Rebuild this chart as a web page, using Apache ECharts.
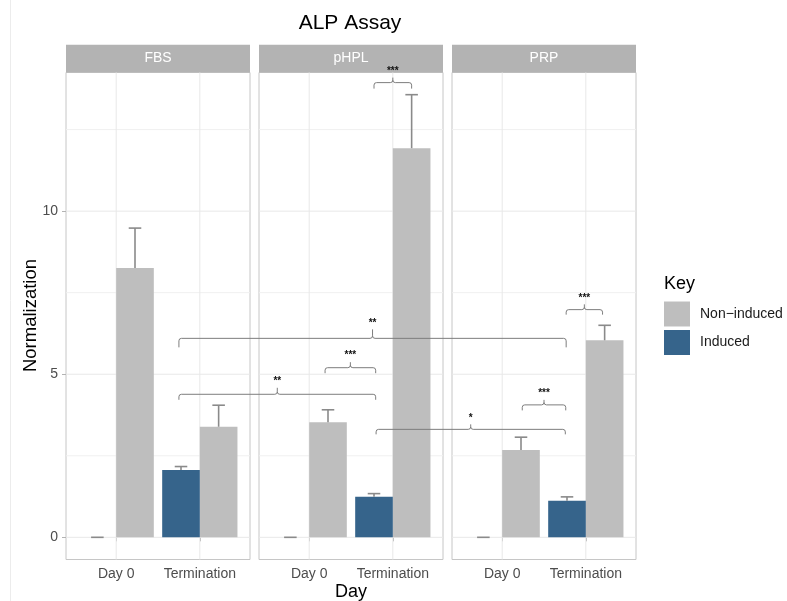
<!DOCTYPE html>
<html>
<head>
<meta charset="utf-8">
<title>ALP Assay</title>
<script src="https://cdn.jsdelivr.net/npm/echarts@6/dist/echarts.min.js"></script>
<style>
  html, body { margin: 0; padding: 0; background: #ffffff; }
  #chart { width: 787px; height: 601px; }
</style>
</head>
<body>
<div id="chart"></div>
<script>
// ---- data ----
const panels = ['FBS', 'pHPL', 'PRP'];
const days = ['Day 0', 'Termination'];
const groups = ['Non\u2212induced', 'Induced'];

// per panel: [Day 0, Termination]
const nonInducedMean = [[8.26, 3.39], [3.53, 11.93], [2.68, 6.04]];
const nonInducedSD   = [[1.22, 0.66], [0.38, 1.64], [0.39, 0.46]];
const inducedMean    = [[0, 2.06], [0, 1.24], [0, 1.12]];
const inducedSD      = [[0, 0.11], [0, 0.10], [0, 0.12]];

const yTicks = [0, 5, 10];
const yMinorTicks = [2.5, 7.5, 12.5];

// significance brackets: start [panel, x], end [panel, x], bracket level, label
const bracketFrom  = [[0, 1.75], [0, 1.75], [1, 1.19], [1, 1.775], [1, 1.80], [2, 1.24], [2, 1.765]];
const bracketTo    = [[2, 1.765], [1, 1.795], [1, 1.795], [1, 2.225], [2, 1.755], [2, 1.76], [2, 2.20]];
const bracketLevel = [6.10, 4.385, 5.20, 13.94, 3.31, 4.06, 6.98];
const bracketLabel = ['**', '**', '***', '***', '*', '***', '***'];

// ---- styling / layout ----
const FONT = '"Liberation Sans", Arial, Helvetica, sans-serif';
const COLORS = ['#bebebe', '#36648b'];
const ERR_COLOR = '#8a8a8a';
const BRACKET_COLOR = '#7d7d7d';
const BRACKET_TIP   = [9, 5.5, 5.5, 6, 5, 5.5, 5];
const BRACKET_NOTCH = [9, 6.5, 5.5, 5, 5, 5, 5.3];

const PANEL_LEFT = [66, 259, 452];
const PANEL_W = 184, PANEL_TOP = 72.5, PANEL_H = 487;
const STRIP_H = 27.8;
const X_MIN = 0.4, X_MAX = 2.6, Y_MIN = -0.68, Y_MAX = 14.25;
const BAR_W = 0.45, CAP_W = 0.15;
const OFFSET = [BAR_W / 2, -BAR_W / 2];   // Non-induced right, Induced left
const dayPos = days.map((d, i) => i + 1);

const unitPx = PANEL_W / (X_MAX - X_MIN);
const panelShift = (PANEL_LEFT[1] - PANEL_LEFT[0]) / unitPx;
const overlayW = PANEL_LEFT[2] + PANEL_W - PANEL_LEFT[0];

const means = [nonInducedMean, inducedMean];
const sds = [nonInducedSD, inducedSD];

const chart = echarts.init(document.getElementById('chart'), null, { renderer: 'canvas' });

const grids = PANEL_LEFT.map(l => ({
  left: l, top: PANEL_TOP, width: PANEL_W, height: PANEL_H,
  show: true, borderColor: '#c6c6c6', borderWidth: 1, backgroundColor: '#ffffff'
}));
grids.push({ left: PANEL_LEFT[0], top: PANEL_TOP, width: overlayW, height: PANEL_H, show: false });

const xAxes = panels.map((p, i) => ({
  gridIndex: i, type: 'value', min: X_MIN, max: X_MAX,
  axisLine: { show: false },
  splitLine: { show: false },
  axisTick: { show: true, customValues: dayPos, length: 4, lineStyle: { color: '#b3b3b3', width: 1 } },
  axisLabel: {
    customValues: dayPos, formatter: v => days[Math.round(v) - 1],
    color: '#4d4d4d', fontSize: 14, fontFamily: FONT, margin: 8
  }
}));
xAxes.push({ gridIndex: 3, type: 'value', min: X_MIN, max: X_MIN + overlayW / unitPx, show: false });

const yAxes = panels.map((p, i) => ({
  gridIndex: i, type: 'value', min: Y_MIN, max: Y_MAX,
  axisLine: { show: false },
  splitLine: { show: false },
  axisTick: { show: i === 0, customValues: yTicks, length: 4, lineStyle: { color: '#b3b3b3', width: 1 } },
  axisLabel: {
    show: i === 0, customValues: yTicks,
    color: '#4d4d4d', fontSize: 14, fontFamily: FONT, margin: 8
  }
}));
yAxes.push({ gridIndex: 3, type: 'value', min: Y_MIN, max: Y_MAX, show: false });

function seg(a, b, color, width) {
  return { type: 'line', shape: { x1: a[0], y1: a[1], x2: b[0], y2: b[1] }, style: { stroke: color, lineWidth: width } };
}
function curve(a, c, b, color, width) {
  return { type: 'bezierCurve', shape: { x1: a[0], y1: a[1], cpx1: c[0], cpy1: c[1], x2: b[0], y2: b[1] },
           style: { stroke: color, lineWidth: width, fill: null } };
}

const series = [];

// panel grid lines
panels.forEach((p, i) => {
  series.push({
    type: 'custom', xAxisIndex: i, yAxisIndex: i, silent: true, z: 1,
    data: [[1, 0]],
    renderItem: (params, api) => {
      const children = [];
      yMinorTicks.forEach(v => children.push(seg(api.coord([X_MIN, v]), api.coord([X_MAX, v]), '#f0f0f0', 1)));
      yTicks.forEach(v => children.push(seg(api.coord([X_MIN, v]), api.coord([X_MAX, v]), '#e8e8e8', 1)));
      dayPos.forEach(v => children.push(seg(api.coord([v, Y_MIN]), api.coord([v, Y_MAX]), '#e8e8e8', 1)));
      return { type: 'group', children };
    }
  });
});

// bars with upper error whiskers
panels.forEach((p, i) => {
  groups.forEach((g, gi) => {
    series.push({
      type: 'custom', name: g, xAxisIndex: i, yAxisIndex: i, z: 3,
      itemStyle: { color: COLORS[gi] },
      data: dayPos.map((x, di) => [x, means[gi][i][di], sds[gi][i][di]]),
      renderItem: (params, api) => {
        const x = api.value(0) + OFFSET[gi], m = api.value(1), s = api.value(2);
        const tl = api.coord([x - BAR_W / 2, m]);
        const br = api.coord([x + BAR_W / 2, 0]);
        const mid = api.coord([x, m]);
        const top = api.coord([x, m + s]);
        const cl = api.coord([x - CAP_W / 2, m + s]);
        const cr = api.coord([x + CAP_W / 2, m + s]);
        return {
          type: 'group',
          children: [
            { type: 'rect', shape: { x: tl[0], y: tl[1], width: br[0] - tl[0], height: br[1] - tl[1] },
              style: { fill: COLORS[gi] } },
            seg(mid, top, ERR_COLOR, 1.6),
            seg(cl, cr, ERR_COLOR, 1.6)
          ]
        };
      }
    });
  });
});

// significance brackets, drawn across panels
series.push({
  type: 'custom', xAxisIndex: 3, yAxisIndex: 3, z: 5, silent: true, clip: false,
  data: bracketLevel.map((y, k) => [
    bracketFrom[k][1] + bracketFrom[k][0] * panelShift, y,
    bracketTo[k][1] + bracketTo[k][0] * panelShift, k
  ]),
  renderItem: (params, api) => {
    const k = api.value(3);
    const a = api.coord([api.value(0), api.value(1)]);
    const b = api.coord([api.value(2), api.value(1)]);
    const yh = a[1], x1 = a[0], x2 = b[0], xm = (x1 + x2) / 2;
    const tip = BRACKET_TIP[k], notch = BRACKET_NOTCH[k], r = 2.5;
    const c = BRACKET_COLOR, w = 1;
    return {
      type: 'group',
      children: [
        seg([x1, yh + tip], [x1, yh + r], c, w),
        curve([x1, yh + r], [x1, yh], [x1 + r, yh], c, w),
        seg([x1 + r, yh], [xm - r, yh], c, w),
        curve([xm - r, yh], [xm, yh], [xm, yh - r], c, w),
        seg([xm, yh - r], [xm, yh - notch], c, w),
        curve([xm, yh - r], [xm, yh], [xm + r, yh], c, w),
        seg([xm + r, yh], [x2 - r, yh], c, w),
        curve([x2 - r, yh], [x2, yh], [x2, yh + r], c, w),
        seg([x2, yh + r], [x2, yh + tip], c, w),
        { type: 'text', x: xm, y: yh - notch - 6.5,
          style: { text: bracketLabel[k], font: 'bold 10px ' + FONT, fill: '#111111',
                   textAlign: 'center', textVerticalAlign: 'middle', align: 'center', verticalAlign: 'middle' } }
      ]
    };
  }
});

// strips, titles and other page text
const graphics = [
  { type: 'line', shape: { x1: 10.5, y1: 0, x2: 10.5, y2: 601 }, style: { stroke: '#ececec', lineWidth: 1 }, silent: true },
  { type: 'text', x: 350, y: 23, style: { text: 'ALP Assay', font: '21px ' + FONT, fill: '#000000',
      textAlign: 'center', textVerticalAlign: 'middle', align: 'center', verticalAlign: 'middle' } },
  { type: 'text', x: 351, y: 592.5, style: { text: 'Day', font: '18px ' + FONT, fill: '#000000',
      textAlign: 'center', textVerticalAlign: 'middle', align: 'center', verticalAlign: 'middle' } },
  { type: 'text', x: 31, y: 315.5, rotation: Math.PI / 2,
    style: { text: 'Normalization', font: '18.5px ' + FONT, fill: '#000000',
      textAlign: 'center', textVerticalAlign: 'middle', align: 'center', verticalAlign: 'middle' } },
  { type: 'text', x: 664, y: 284, style: { text: 'Key', font: '18px ' + FONT, fill: '#000000',
      textAlign: 'left', textVerticalAlign: 'middle', align: 'left', verticalAlign: 'middle' } }
];
panels.forEach((p, i) => {
  graphics.push({ type: 'rect', shape: { x: PANEL_LEFT[i], y: PANEL_TOP - STRIP_H, width: PANEL_W, height: STRIP_H },
                  style: { fill: '#b3b3b3' }, z: 0 });
  graphics.push({ type: 'text', x: PANEL_LEFT[i] + PANEL_W / 2, y: PANEL_TOP - STRIP_H / 2, z: 1,
                  style: { text: p, font: '14px ' + FONT, fill: '#ffffff',
                           textAlign: 'center', textVerticalAlign: 'middle', align: 'center', verticalAlign: 'middle' } });
});

chart.setOption({
  animation: false,
  backgroundColor: '#ffffff',
  grid: grids,
  xAxis: xAxes,
  yAxis: yAxes,
  legend: {
    data: groups, orient: 'vertical', left: 664, top: 301.5,
    itemWidth: 26, itemHeight: 25, itemGap: 3.5, icon: 'rect', padding: 0,
    selectedMode: false,
    textStyle: { fontSize: 14, color: '#1a1a1a', fontFamily: FONT, padding: [0, 0, 0, 5] }
  },
  graphic: graphics,
  series: series
});
</script>
</body>
</html>
